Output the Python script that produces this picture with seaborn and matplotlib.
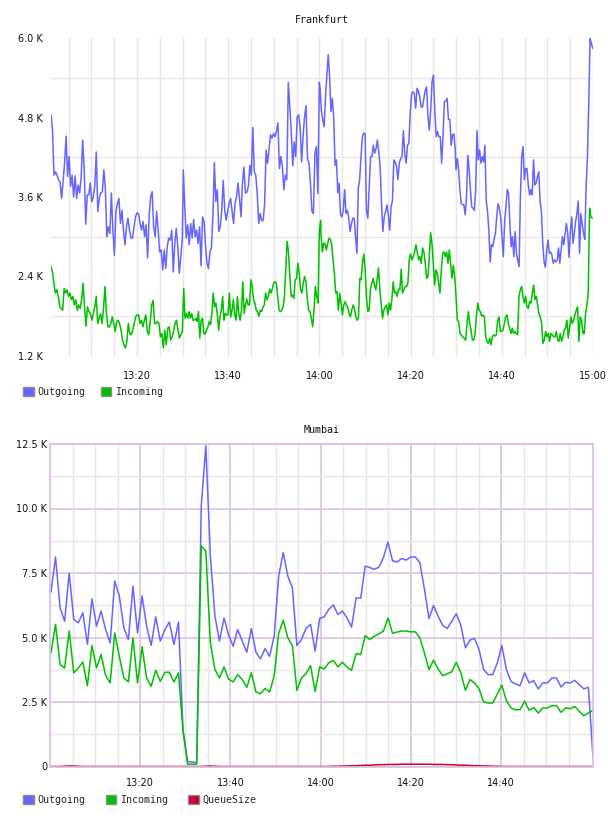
import pandas as pd
import matplotlib
matplotlib.use("Agg")
import matplotlib.pyplot as plt
import matplotlib.dates as mdates
from matplotlib.patches import Patch
import seaborn as sns

# ---- Frankfurt (values in K), read in four time spans ----
fra_spans = [("13:01:08", "13:29:56"), ("13:30:09", "13:59:59"),
             ("14:00:08", "14:29:48"), ("14:29:57", "14:59:56")]
fra_out_parts = [
    [4.84, 4.61, 3.93, 3.98, 3.93, 3.86, 3.83, 3.58, 3.83, 4.11,
     4.52, 3.91, 4.21, 3.76, 3.93, 3.60, 3.92, 3.58, 3.78, 3.66,
     3.91, 4.46, 4.01, 3.19, 3.63, 3.63, 3.81, 3.53, 3.60, 3.76,
     4.28, 3.38, 3.58, 3.66, 3.68, 4.01, 3.73, 3.00, 3.15, 3.05,
     3.66, 3.10, 2.72, 3.38, 3.50, 3.58, 3.20, 3.40, 3.10, 2.88,
     3.15, 3.28, 3.10, 2.98, 2.98, 3.15, 3.30, 3.36, 3.35, 3.20,
     3.10, 3.23, 3.00, 3.18, 2.68, 3.30, 3.60, 3.68, 3.15, 3.00,
     3.38, 3.10, 2.77, 2.80, 2.50, 2.80, 2.52, 2.85, 2.98, 2.95,
     3.10, 2.47, 2.90, 3.13, 2.85, 2.45, 2.70, 2.98],
    [4.01, 3.45, 2.98, 3.18, 2.88, 3.20, 2.98, 3.26, 3.00, 3.10,
     2.90, 3.15, 2.56, 3.30, 3.23, 2.88, 2.60, 2.52, 2.77, 2.83,
     3.30, 4.12, 3.53, 3.71, 3.08, 3.15, 3.40, 3.85, 3.40, 3.25,
     3.38, 3.50, 3.58, 3.38, 3.20, 3.50, 3.60, 3.81, 3.58, 3.30,
     3.81, 4.05, 3.66, 3.67, 3.76, 4.08, 3.93, 4.65, 3.98, 3.93,
     3.66, 3.20, 3.35, 3.24, 3.25, 3.50, 4.31, 4.11, 4.33, 4.54,
     4.49, 4.56, 4.51, 4.59, 4.72, 4.03, 4.21, 4.06, 3.71, 3.93,
     3.86, 5.33, 4.96, 4.61, 4.07, 4.43, 4.21, 4.81, 4.84, 4.66,
     4.13, 4.51, 4.81, 4.98, 4.18, 4.11, 3.81, 3.38, 3.35, 4.26,
     4.36, 3.65, 5.33],
    [5.24, 4.91, 4.76, 4.66, 5.11, 5.42, 5.75, 5.42, 4.89, 5.09,
     4.81, 4.08, 4.16, 3.66, 3.81, 3.33, 3.30, 3.40, 3.71, 3.35,
     3.40, 3.28, 3.08, 3.20, 3.28, 3.28, 3.00, 2.75, 3.73, 3.86,
     4.21, 4.51, 4.56, 4.56, 3.40, 3.28, 3.76, 4.21, 4.21, 4.38,
     4.26, 4.33, 4.46, 4.28, 4.06, 3.50, 3.08, 3.30, 3.38, 3.48,
     3.33, 3.10, 3.45, 3.55, 4.16, 4.13, 4.06, 3.86, 4.11, 4.18,
     4.21, 4.60, 4.26, 4.11, 4.38, 4.41, 4.86, 5.15, 5.19, 5.16,
     4.94, 5.24, 5.20, 5.11, 4.96, 4.96, 5.09, 5.21, 5.26, 4.81,
     4.61, 4.91, 5.34, 5.44, 4.91, 4.51, 4.59, 4.51, 4.51, 4.11,
     4.51, 5.04, 5.05, 5.09, 4.77, 4.77, 4.38, 4.54, 4.55, 4.31],
    [4.01, 4.18, 4.01, 3.71, 3.50, 3.49, 3.48, 3.33, 3.60, 4.23,
     4.01, 3.71, 3.45, 3.43, 3.40, 3.71, 4.60, 4.16, 4.31, 4.11,
     4.21, 4.13, 4.38, 3.55, 3.38, 3.10, 2.62, 2.88, 2.85, 2.96,
     3.05, 3.30, 3.50, 3.43, 3.30, 3.00, 2.70, 3.23, 3.45, 3.71,
     3.66, 3.20, 2.85, 3.00, 2.70, 3.08, 2.75, 2.65, 2.55, 3.60,
     4.21, 4.36, 3.86, 4.03, 4.03, 3.78, 3.63, 3.71, 3.63, 4.16,
     3.78, 3.81, 3.91, 3.98, 3.53, 3.38, 2.90, 2.62, 2.54, 2.80,
     2.95, 2.75, 2.77, 2.72, 2.60, 2.65, 2.62, 2.65, 2.83, 2.60,
     2.80, 3.00, 2.88, 3.05, 3.20, 3.05, 2.69, 3.08, 3.30, 2.90,
     3.05, 3.23, 3.35, 3.54, 2.75, 3.35, 3.20, 3.05, 2.96, 3.76,
     4.21, 5.01, 5.99, 5.92, 5.84],
]

fra_in_spans = [("13:01:08", "13:29:56"), ("13:30:14", "14:00:17"),
                ("14:00:21", "14:31:43"), ("14:32:05", "14:59:50")]
fra_in_parts = [
    [2.55, 2.47, 2.30, 2.15, 2.20, 2.10, 1.94, 1.92, 1.89, 2.22,
     2.15, 2.20, 2.10, 2.15, 2.05, 2.10, 1.97, 2.05, 1.89, 1.97,
     1.92, 2.05, 2.30, 1.94, 1.65, 1.94, 1.87, 1.84, 1.74, 1.84,
     1.94, 2.10, 1.69, 1.77, 1.84, 1.69, 1.92, 2.25, 1.84, 1.64,
     1.64, 1.69, 1.79, 1.69, 1.57, 1.72, 1.74, 1.69, 1.59, 1.44,
     1.37, 1.32, 1.42, 1.69, 1.54, 1.52, 1.59, 1.69, 1.79, 1.82,
     1.82, 1.69, 1.74, 1.64, 1.74, 1.82, 1.57, 1.52, 1.72, 1.97,
     2.04, 1.69, 1.69, 1.72, 1.69, 1.49, 1.54, 1.32, 1.59, 1.37,
     1.62, 1.64, 1.44, 1.49, 1.57, 1.69, 1.74, 1.59, 1.47, 1.52,
     1.57],
    [2.22, 1.77, 1.84, 1.77, 1.87, 1.77, 1.84, 1.74, 1.74, 1.77,
     1.72, 1.87, 1.47, 1.74, 1.77, 1.54, 1.53, 1.59, 1.64, 1.72,
     1.67, 1.84, 2.15, 1.94, 2.00, 1.84, 1.59, 1.79, 1.89, 2.10,
     1.74, 1.84, 1.82, 1.82, 2.15, 1.79, 1.89, 2.05, 1.82, 1.74,
     2.10, 1.84, 1.74, 1.89, 2.32, 1.84, 1.97, 2.06, 1.97, 1.97,
     2.35, 2.25, 2.05, 2.00, 1.89, 1.87, 1.80, 1.89, 1.87, 1.94,
     1.97, 2.15, 2.05, 2.10, 2.21, 2.15, 2.22, 2.30, 2.32, 2.30,
     2.10, 1.89, 1.87, 1.89, 1.94, 2.10, 2.50, 2.93, 2.77, 2.40,
     2.10, 2.12, 2.07, 2.35, 2.37, 2.60, 2.45, 2.20, 2.15, 2.30,
     2.40, 2.32, 2.07, 1.89, 1.87, 1.77, 1.64, 1.89, 2.25, 2.10,
     2.00, 3.10, 3.25],
    [3.03, 2.77, 2.90, 2.90, 2.80, 2.90, 2.98, 2.96, 2.88, 2.65,
     2.45, 2.15, 2.17, 1.89, 2.15, 2.00, 1.82, 1.97, 2.02, 1.97,
     1.94, 1.84, 1.79, 1.89, 1.97, 1.92, 1.79, 1.74, 1.77, 2.37,
     2.35, 2.60, 2.74, 2.50, 2.10, 1.87, 1.89, 2.22, 2.30, 2.37,
     2.27, 2.20, 2.35, 2.53, 2.20, 2.00, 1.77, 1.89, 1.94, 1.97,
     1.82, 2.00, 1.89, 2.05, 2.32, 2.15, 2.17, 2.10, 2.21, 2.20,
     2.51, 2.15, 2.20, 2.25, 2.25, 2.30, 2.65, 2.74, 2.65, 2.70,
     2.77, 2.88, 2.77, 2.65, 2.70, 2.60, 2.83, 2.77, 2.60, 2.37,
     2.40, 2.70, 3.06, 2.90, 2.60, 2.27, 2.50, 2.45, 2.30, 2.15,
     2.50, 2.75, 2.77, 2.70, 2.77, 2.60, 2.80, 2.60, 2.37, 2.57,
     2.40, 2.10, 1.74, 1.72, 1.54, 1.52, 1.49, 1.47],
    [1.44, 1.69, 1.87, 1.69, 1.59, 1.44, 1.44, 1.52, 1.79, 2.00,
     1.89, 1.87, 1.80, 1.82, 1.79, 1.49, 1.42, 1.39, 1.47, 1.37,
     1.49, 1.52, 1.50, 1.52, 1.74, 1.79, 1.57, 1.57, 1.59, 1.69,
     1.79, 1.82, 1.69, 1.62, 1.54, 1.62, 1.54, 1.57, 1.54, 1.52,
     2.10, 2.20, 2.25, 2.10, 2.00, 2.10, 1.94, 1.92, 2.02, 2.00,
     2.15, 2.27, 2.05, 2.10, 1.97, 1.84, 1.79, 1.69, 1.39, 1.44,
     1.57, 1.49, 1.54, 1.42, 1.54, 1.52, 1.49, 1.49, 1.57, 1.44,
     1.42, 1.54, 1.42, 1.49, 1.59, 1.62, 1.74, 1.47, 1.64, 1.79,
     1.69, 1.74, 1.82, 1.89, 1.94, 1.42, 1.79, 1.74, 1.54, 1.54,
     1.84, 1.97, 2.15, 3.43, 3.30, 3.28],
]

# ---- Mumbai (values in K), one sample per ~minute ----
mum_span = ("13:00:13", "15:00:20")
mum_out = [6.76, 8.12, 6.15, 5.63, 7.49, 5.70, 5.57, 5.96, 4.73, 6.50,
           5.44, 6.02, 5.31, 4.79, 7.19, 6.61, 5.38, 4.92, 6.99, 5.18,
           6.61, 5.44, 4.69, 5.80, 4.86, 5.31, 5.60, 4.73, 5.60, 1.42,
           0.19, 0.17, 0.16, 10.10, 12.43, 8.16, 5.83, 4.86, 5.76, 5.10,
           4.66, 5.31, 4.86, 4.43, 5.35, 4.43, 4.17, 4.57, 4.27, 5.05,
           7.38, 8.29, 7.38, 6.93, 4.69, 4.92, 5.35, 5.51, 4.47, 5.74,
           5.80, 6.09, 6.26, 5.89, 6.02, 5.76, 5.40, 6.54, 6.52, 7.77,
           7.71, 7.64, 7.73, 8.10, 8.70, 7.97, 7.93, 8.06, 8.00, 8.12,
           8.12, 7.90, 6.87, 5.73, 6.24, 5.83, 5.47, 5.35, 5.63, 5.92,
           5.47, 4.60, 4.90, 4.96, 4.53, 3.76, 3.56, 3.56, 4.02, 4.69,
           3.76, 3.30, 3.20, 3.13, 3.63, 3.24, 3.33, 3.01, 3.24, 3.24,
           3.43, 3.43, 3.08, 3.26, 3.24, 3.34, 3.17, 3.01, 3.07, 0.39]
mum_in = [4.40, 5.51, 3.95, 3.82, 5.25, 3.63, 3.82, 4.05, 3.13, 4.69,
          3.82, 4.34, 3.52, 3.24, 5.18, 4.27, 3.43, 3.28, 4.99, 3.24,
          4.64, 3.43, 3.11, 3.73, 3.30, 3.65, 3.65, 3.28, 3.63, 1.36,
          0.09, 0.09, 0.09, 8.55, 8.35, 4.79, 3.76, 3.43, 3.86, 3.39,
          3.28, 3.56, 3.37, 3.07, 3.63, 2.89, 2.82, 3.02, 2.89, 3.50,
          5.16, 5.67, 4.99, 4.69, 2.95, 3.43, 3.60, 3.91, 2.91, 3.86,
          3.78, 4.02, 4.11, 3.86, 4.04, 3.85, 3.73, 4.38, 4.34, 5.08,
          4.92, 5.05, 5.14, 5.25, 5.76, 5.16, 5.21, 5.25, 5.25, 5.22,
          5.22, 4.99, 4.40, 3.76, 4.12, 3.78, 3.52, 3.59, 3.67, 4.04,
          3.63, 2.95, 3.37, 3.24, 3.01, 2.50, 2.46, 2.46, 2.81, 3.15,
          2.56, 2.27, 2.20, 2.20, 2.53, 2.18, 2.29, 2.07, 2.27, 2.27,
          2.36, 2.36, 2.10, 2.27, 2.24, 2.33, 2.14, 1.97, 2.07, 2.18]
mum_queue = [0.00, 0.00, 0.00, 0.01, 0.02, 0.02, 0.01, 0.00, 0.00, 0.00,
             0.00, 0.00, 0.00, 0.00, 0.00, 0.00, 0.00, 0.00, 0.00, 0.00,
             0.00, 0.00, 0.00, 0.00, 0.00, 0.00, 0.00, 0.00, 0.00, 0.00,
             0.00, 0.00, 0.00, 0.00, 0.01, 0.02, 0.01, 0.00, 0.00, 0.00,
             0.00, 0.00, 0.00, 0.00, 0.00, 0.00, 0.00, 0.00, 0.00, 0.00,
             0.00, 0.00, 0.00, 0.00, 0.00, 0.00, 0.00, 0.00, 0.00, 0.00,
             0.00, 0.00, 0.01, 0.01, 0.02, 0.02, 0.03, 0.03, 0.04, 0.05,
             0.05, 0.06, 0.07, 0.07, 0.08, 0.08, 0.08, 0.09, 0.09, 0.09,
             0.09, 0.09, 0.09, 0.09, 0.08, 0.08, 0.08, 0.07, 0.07, 0.06,
             0.05, 0.05, 0.04, 0.03, 0.03, 0.02, 0.02, 0.01, 0.01, 0.00,
             0.00, 0.00, 0.00, 0.00, 0.00, 0.00, 0.00, 0.00, 0.00, 0.00,
             0.00, 0.00, 0.00, 0.00, 0.00, 0.00, 0.00, 0.00, 0.00, 0.00]

fra_xticks = ["13:20", "13:40", "14:00", "14:20", "14:40", "15:00"]
mum_xticks = ["13:20", "13:40", "14:00", "14:20", "14:40"]

colors = {"Outgoing": "#6666ff", "Incoming": "#00c000", "QueueSize": "#cc0033"}
day = "2024-01-01 "


def span_frame(parts, spans, name):
    frames = []
    for vals, (t0, t1) in zip(parts, spans):
        t = pd.date_range(day + t0, day + t1, periods=len(vals))
        frames.append(pd.DataFrame({"time": t, "value": vals, "series": name}))
    return pd.concat(frames, ignore_index=True)


fra = pd.concat([span_frame(fra_out_parts, fra_spans, "Outgoing"),
                 span_frame(fra_in_parts, fra_in_spans, "Incoming")], ignore_index=True)
mum = pd.concat([span_frame([mum_out], [mum_span], "Outgoing"),
                 span_frame([mum_in], [mum_span], "Incoming"),
                 span_frame([mum_queue], [mum_span], "QueueSize")], ignore_index=True)

sns.set_style("white")
plt.rcParams["font.family"] = ["DejaVu Sans"]
mono = "DejaVu Sans Mono"
grey = "#e6e6e6"
purple = "#d9bddf"

fig = plt.figure(figsize=(6.08, 8.16), dpi=100)
ax1 = fig.add_axes([51 / 608, 1 - 356 / 816, 542 / 608, 318 / 816])
ax2 = fig.add_axes([50 / 608, 1 - 766.5 / 816, 543.3 / 608, 322.5 / 816])

sns.lineplot(data=fra, x="time", y="value", hue="series", palette=colors,
             linewidth=1.1, legend=False, ax=ax1)
sns.lineplot(data=mum, x="time", y="value", hue="series", palette=colors,
             linewidth=1.1, legend=False, ax=ax2)

for ax, ticks in ((ax1, fra_xticks), (ax2, mum_xticks)):
    ax.set_xlabel("")
    ax.set_ylabel("")
    ax.set_axisbelow(True)
    ax.set_xticks([pd.Timestamp(day + t) for t in ticks])
    ax.xaxis.set_major_formatter(mdates.DateFormatter("%H:%M"))
    ax.xaxis.set_minor_locator(mdates.MinuteLocator(byminute=[5, 10, 15, 25, 30, 35, 45, 50, 55]))
    ax.tick_params(which="both", length=0, labelsize=7, colors="#111111")

# Frankfurt styling
ax1.set_xlim(pd.Timestamp(day + "13:01:08"), pd.Timestamp(day + "15:00:00"))
ax1.set_ylim(1.2, 6.0)
fra_ticks = [1.2, 2.4, 3.6, 4.8, 6.0]
ax1.set_yticks(fra_ticks)
ax1.set_yticklabels([f"{v:.1f} K" for v in fra_ticks])
ax1.set_yticks([1.8, 3.0, 4.2, 5.4], minor=True)
ax1.grid(which="both", axis="x", color=grey, lw=1)
ax1.grid(which="minor", axis="y", color=grey, lw=1)
ax1.grid(which="major", axis="y", visible=False)
ax1.tick_params(axis="x", pad=11)
ax1.tick_params(axis="y", pad=6)
for s in ax1.spines.values():
    s.set_visible(False)

# Mumbai styling
ax2.set_xlim(pd.Timestamp(day + "13:00:00"), pd.Timestamp(day + "15:00:25"))
ax2.set_ylim(0, 12.5)
mum_ticks = [0, 2.5, 5.0, 7.5, 10.0, 12.5]
ax2.set_yticks(mum_ticks)
ax2.set_yticklabels(["0"] + [f"{v:.1f} K" for v in mum_ticks[1:]])
ax2.set_yticks([1.25, 3.75, 6.25, 8.75, 11.25], minor=True)
ax2.grid(which="minor", color=grey, lw=1)
ax2.grid(which="major", color=purple, lw=1.1)
ax2.tick_params(axis="x", pad=8)
ax2.tick_params(axis="y", pad=2)
for s in ax2.spines.values():
    s.set_color(purple)
    s.set_linewidth(1.2)

fig.text(322 / 608, 1 - 20 / 816, "Frankfurt", ha="center", va="center",
         family=mono, fontsize=7.2, color="#111111")
fig.text(322 / 608, 1 - 430 / 816, "Mumbai", ha="center", va="center",
         family=mono, fontsize=7.2, color="#111111")


def square_legend(names, y, spacing):
    handles = [Patch(facecolor=colors[n], edgecolor="#8c8c8c", lw=1) for n in names]
    fig.legend(handles, names, loc="center left", bbox_to_anchor=(23 / 608, 1 - y / 816),
               ncol=len(names), frameon=False, prop={"family": mono, "size": 7.2},
               handlelength=1.05, handleheight=1.05, handletextpad=0.4,
               columnspacing=spacing, borderpad=0, borderaxespad=0)


square_legend(["Outgoing", "Incoming"], 392, 1.5)
square_legend(["Outgoing", "Incoming", "QueueSize"], 800, 2.0)

fig.savefig("out.png", dpi=100)
